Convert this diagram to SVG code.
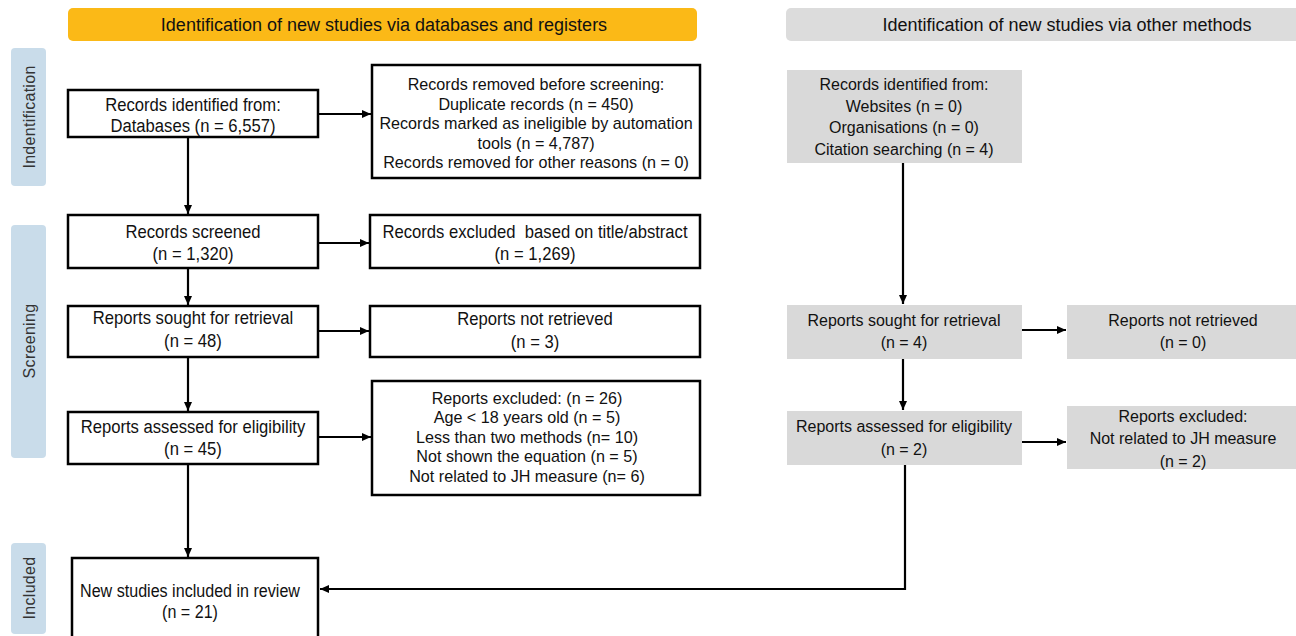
<svg xmlns="http://www.w3.org/2000/svg" width="1296" height="636" viewBox="0 0 1296 636">
<style>
.bg{fill:#ffffff}
.box{fill:#ffffff;stroke:#000000;stroke-width:2.5}
.gbox{fill:#d9d9d9;stroke:none}
.side{fill:#c9dcea}
.L{font-family:"Liberation Sans",Arial,sans-serif;font-size:18.5px;fill:#111;text-anchor:middle}
.M{font-family:"Liberation Sans",Arial,sans-serif;font-size:17px;fill:#111;text-anchor:middle}
.R{font-family:"Liberation Sans",Arial,sans-serif;font-size:16px;fill:#111;text-anchor:middle}
.ban{font-family:"Liberation Sans",Arial,sans-serif;font-size:18px;fill:#111;text-anchor:middle}
.sl{font-family:"Liberation Sans",Arial,sans-serif;font-size:16px;fill:#333;text-anchor:middle;letter-spacing:0.3px}
.con{fill:none;stroke:#000;stroke-width:2.2}
</style>
<defs>
<marker id="ah" markerUnits="userSpaceOnUse" markerWidth="10" markerHeight="10" viewBox="0 0 10 10" refX="9" refY="5" orient="auto">
<path d="M0,1 L9,5 L0,9 z" fill="#000"/>
</marker>
</defs>
<rect class="bg" x="0" y="0" width="1296" height="636"/>

<g id="banner-left">
<rect x="68" y="8" width="629" height="33" rx="5" fill="#fbb917"/>
<text class="ban" x="384" y="31">Identification of new studies via databases and registers</text>
</g>
<g id="banner-right">
<rect x="786" y="8" width="520" height="33" rx="5" fill="#dcdcdc"/>
<text class="ban" x="1067" y="31">Identification of new studies via other methods</text>
</g>

<g id="side-identification">
<rect class="side" x="11" y="48" width="35" height="138" rx="4"/>
<text class="sl" transform="translate(35,117) rotate(-90)">Indentification</text>
</g>
<g id="side-screening">
<rect class="side" x="11" y="225" width="35" height="233" rx="4"/>
<text class="sl" transform="translate(35,341) rotate(-90)">Screening</text>
</g>
<g id="side-included">
<rect class="side" x="11" y="543" width="35" height="91" rx="4"/>
<text class="sl" transform="translate(35,588) rotate(-90)">Included</text>
</g>

<g id="records-identified">
<rect class="box" x="68" y="90" width="250" height="47"/>
<text class="L" transform="translate(193,111) scale(0.9,1)">Records identified from:</text>
<text class="L" transform="translate(193,132) scale(0.9,1)">Databases (n = 6,557)</text>
</g>
<g id="records-removed">
<rect class="box" x="372" y="65" width="328" height="113"/>
<text class="M" transform="translate(536,90) scale(0.95,1)">Records removed before screening:</text>
<text class="M" transform="translate(536,109.5) scale(0.95,1)">Duplicate records (n = 450)</text>
<text class="M" transform="translate(536,129) scale(0.95,1)">Records marked as ineligible by automation</text>
<text class="M" transform="translate(536,148.5) scale(0.95,1)">tools (n = 4,787)</text>
<text class="M" transform="translate(536,168) scale(0.95,1)">Records removed for other reasons (n = 0)</text>
</g>
<g id="records-screened">
<rect class="box" x="68" y="215" width="250" height="53"/>
<text class="L" transform="translate(193,238) scale(0.9,1)">Records screened</text>
<text class="L" transform="translate(193,260) scale(0.9,1)">(n = 1,320)</text>
</g>
<g id="records-excluded">
<rect class="box" x="370" y="215" width="330" height="53"/>
<text class="L" transform="translate(535,238) scale(0.9,1)" xml:space="preserve">Records excluded  based on title/abstract</text>
<text class="L" transform="translate(535,260) scale(0.9,1)">(n = 1,269)</text>
</g>
<g id="reports-sought">
<rect class="box" x="68" y="306" width="250" height="51"/>
<text class="L" transform="translate(193,324) scale(0.9,1)">Reports sought for retrieval</text>
<text class="L" transform="translate(193,347) scale(0.9,1)">(n = 48)</text>
</g>
<g id="reports-not-retrieved">
<rect class="box" x="370" y="306" width="330" height="51"/>
<text class="L" transform="translate(535,325) scale(0.9,1)">Reports not retrieved</text>
<text class="L" transform="translate(535,348) scale(0.9,1)">(n = 3)</text>
</g>
<g id="reports-assessed">
<rect class="box" x="68" y="412" width="250" height="52"/>
<text class="L" transform="translate(193,433) scale(0.9,1)">Reports assessed for eligibility</text>
<text class="L" transform="translate(193,455) scale(0.9,1)">(n = 45)</text>
</g>
<g id="reports-excluded">
<rect class="box" x="372" y="381" width="328" height="114"/>
<text class="M" transform="translate(527,404) scale(0.95,1)">Reports excluded: (n = 26)</text>
<text class="M" transform="translate(527,423.4) scale(0.95,1)">Age &lt; 18 years old (n = 5)</text>
<text class="M" transform="translate(527,442.8) scale(0.95,1)">Less than two methods (n= 10)</text>
<text class="M" transform="translate(527,462.2) scale(0.95,1)">Not shown the equation (n = 5)</text>
<text class="M" transform="translate(527,481.6) scale(0.95,1)">Not related to JH measure (n= 6)</text>
</g>
<g id="new-studies">
<rect class="box" x="72" y="558" width="246" height="80"/>
<text class="L" transform="translate(190,597) scale(0.87,1)">New studies included in review</text>
<text class="L" transform="translate(190,618) scale(0.87,1)">(n = 21)</text>
</g>

<g id="other-records-identified">
<rect class="gbox" x="787" y="70" width="235" height="93"/>
<text class="R" x="904" y="90">Records identified from:</text>
<text class="R" x="904" y="112">Websites (n = 0)</text>
<text class="R" x="904" y="133">Organisations (n = 0)</text>
<text class="R" x="904" y="155">Citation searching (n = 4)</text>
</g>
<g id="other-reports-sought">
<rect class="gbox" x="787" y="305" width="235" height="54"/>
<text class="R" x="904" y="326">Reports sought for retrieval</text>
<text class="R" x="904" y="348">(n = 4)</text>
</g>
<g id="other-reports-not-retrieved">
<rect class="gbox" x="1067" y="305" width="240" height="54"/>
<text class="R" x="1183" y="326">Reports not retrieved</text>
<text class="R" x="1183" y="348">(n = 0)</text>
</g>
<g id="other-reports-assessed">
<rect class="gbox" x="787" y="411" width="235" height="54"/>
<text class="R" x="904" y="432">Reports assessed for eligibility</text>
<text class="R" x="904" y="455">(n = 2)</text>
</g>
<g id="other-reports-excluded">
<rect class="gbox" x="1067" y="406" width="240" height="63"/>
<text class="R" x="1183" y="422">Reports excluded:</text>
<text class="R" x="1183" y="444">Not related to JH measure</text>
<text class="R" x="1183" y="467">(n = 2)</text>
</g>

<g id="connectors">
<line class="con" x1="319" y1="114" x2="371" y2="114" marker-end="url(#ah)"/>
<line class="con" x1="188" y1="137" x2="188" y2="214" marker-end="url(#ah)"/>
<line class="con" x1="319" y1="243" x2="369" y2="243" marker-end="url(#ah)"/>
<line class="con" x1="188" y1="268" x2="188" y2="305" marker-end="url(#ah)"/>
<line class="con" x1="319" y1="331" x2="369" y2="331" marker-end="url(#ah)"/>
<line class="con" x1="188" y1="357" x2="188" y2="411" marker-end="url(#ah)"/>
<line class="con" x1="319" y1="437" x2="371" y2="437" marker-end="url(#ah)"/>
<line class="con" x1="188" y1="464" x2="188" y2="557" marker-end="url(#ah)"/>
<line class="con" x1="903" y1="163" x2="903" y2="304" marker-end="url(#ah)"/>
<line class="con" x1="1022" y1="330" x2="1066" y2="330" marker-end="url(#ah)"/>
<line class="con" x1="903" y1="359" x2="903" y2="410" marker-end="url(#ah)"/>
<line class="con" x1="1022" y1="442" x2="1066" y2="442" marker-end="url(#ah)"/>
<polyline class="con" points="905,465 905,589 320,589" marker-end="url(#ah)"/>
</g>
</svg>
